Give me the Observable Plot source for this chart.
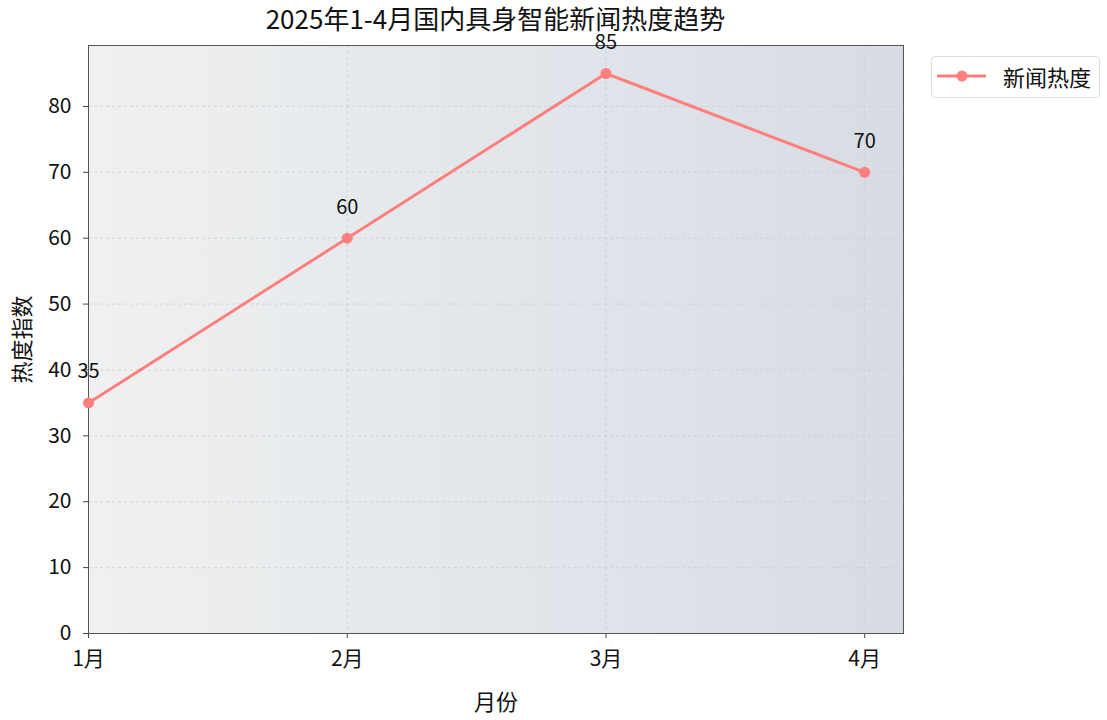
<!DOCTYPE html>
<html><head><meta charset="utf-8">
<script src="https://cdn.jsdelivr.net/npm/d3@7"></script>
<script src="https://cdn.jsdelivr.net/npm/@observablehq/plot@0.6"></script>
<style>
body{margin:0;background:#fff;font-family:"Noto Sans CJK SC","Noto Sans",sans-serif;}
#wrap{position:relative;width:1107px;height:720px;}
#title{width:991px;height:30px;line-height:36px;text-align:center;font-size:26px;color:#111;white-space:nowrap;}
#legend{position:absolute;left:931px;top:56px;width:169px;height:42px;border:1px solid #ddd;border-radius:4px;background:#fff;box-sizing:border-box;}
#legend svg{position:absolute;left:0;top:0;}
#legend span{position:absolute;left:71px;top:4px;font-size:22px;line-height:30px;color:#111;white-space:nowrap;}
</style></head>
<body><div id="wrap"><div id="title">2025年1-4月国内具身智能新闻热度趋势</div><div id="chart"></div>
<div id="legend"><svg width="70" height="40"><line x1="5" x2="54" y1="19" y2="19" stroke="#ff7f7f" stroke-width="3"/><circle cx="30" cy="19" r="5.5" fill="#ff7f7f"/></svg><span>新闻热度</span></div></div>
<script>
const months = ["1月","2月","3月","4月"];
const heat = [35,60,85,70];
const yTicks = [0,10,20,30,40,50,60,70,80];
const data = months.map((m,i)=>({i, month:m, value:heat[i]}));
const lineColor = "#ff7f7f";

const plot = Plot.plot({
  width:1107, height:690,
  marginTop:15, marginBottom:87, marginLeft:88, marginRight:204,
  style:{fontFamily:'"Noto Sans CJK SC","Noto Sans",sans-serif', fontSize:"21px", color:"#111", background:"transparent", overflow:"visible"},
  x:{domain:[0,3.15], ticks:[0,1,2,3], tickFormat:d=>months[d], label:null},
  y:{domain:[0,89.25], ticks:yTicks, label:null},
  marks:[
    Plot.frame({fill:"url(#bggrad)"}),
    Plot.gridX([0,1,2,3],{stroke:"#c8ccd0", strokeOpacity:0.9, strokeDasharray:"3,3", strokeWidth:0.8}),
    Plot.gridY(yTicks,{stroke:"#c8ccd0", strokeOpacity:0.9, strokeDasharray:"3,3", strokeWidth:0.8}),
    Plot.axisX({ticks:[0,1,2,3], tickFormat:d=>months[d], tickSize:5, tickPadding:13, fontSize:21, stroke:"#444", label:null}),
    Plot.axisY({ticks:yTicks, tickSize:5, tickPadding:12, fontSize:21, stroke:"#444", label:null}),
    Plot.frame({stroke:"#555", strokeWidth:1}),
    Plot.line(data,{x:"i", y:"value", stroke:lineColor, strokeWidth:3}),
    Plot.dot(data,{x:"i", y:"value", fill:lineColor, r:5.5}),
    Plot.text(data,{x:"i", y:"value", text:d=>String(d.value), dy:-31, fontSize:20, fill:"#111"}),
    Plot.text(["热度指数"],{frameAnchor:"left", textAnchor:"middle", dx:-66, rotate:-90, fontSize:22, fill:"#111"}),
    Plot.text(["月份"],{frameAnchor:"bottom", dy:76, fontSize:22, fill:"#111"})
  ]
});
const svg = d3.select(plot);
const defs = svg.insert("defs",":first-child");
const g = defs.append("linearGradient").attr("id","bggrad").attr("x1","0").attr("x2","1").attr("y1","0").attr("y2","0");
g.append("stop").attr("offset","0").attr("stop-color","#f0f0f0");
g.append("stop").attr("offset","0.6").attr("stop-color","#dfe5ea");
g.append("stop").attr("offset","1").attr("stop-color","#d7dce3");
document.getElementById("chart").appendChild(plot);
</script></body></html>
